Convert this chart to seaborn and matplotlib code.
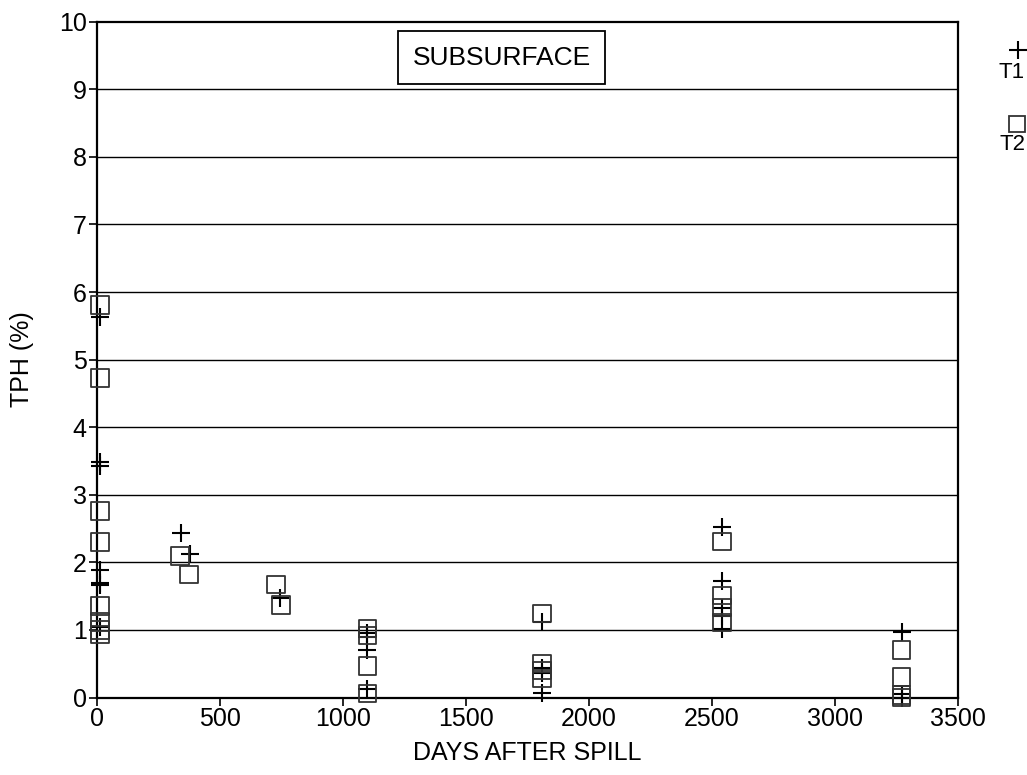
import matplotlib
matplotlib.use("Agg")
import matplotlib.pyplot as plt
import seaborn as sns
import pandas as pd
from matplotlib.lines import Line2D

sns.set_style("ticks")
plt.rcParams['font.family'] = ['Liberation Sans', 'DejaVu Sans']
plt.rcParams['text.color'] = 'black'
plt.rcParams['axes.labelcolor'] = 'black'
plt.rcParams['xtick.color'] = 'black'
plt.rcParams['ytick.color'] = 'black'

# T1 series (+)
t1_days = [15, 15, 15, 15, 15, 15, 15,
           345, 380,
           745,
           1100, 1100, 1100, 1100,
           1810, 1810, 1810, 1810,
           2540, 2540, 2540, 2540, 2540,
           3270, 3270, 3270]
t1_tph = [5.63, 3.48, 3.43, 1.88, 1.70, 1.67, 1.05,
          2.43, 2.12,
          1.47,
          0.96, 0.89, 0.71, 0.13,
          1.11, 0.43, 0.36, 0.07,
          2.52, 1.72, 1.32, 1.21, 1.02,
          0.97, 0.05, 0.0]

# T2 series (squares)
t2_days = [15, 15, 15, 15, 15, 15, 15, 15,
           340, 375,
           730, 750,
           1100, 1100, 1100, 1100,
           1810, 1810, 1810, 1810,
           2540, 2540, 2540, 2540,
           3270, 3270, 3270, 3270]
t2_tph = [5.81, 4.73, 2.76, 2.30, 1.35, 1.12, 1.00, 0.93,
          2.09, 1.82,
          1.67, 1.37,
          1.02, 0.92, 0.47, 0.06,
          1.24, 0.50, 0.40, 0.28,
          2.31, 1.51, 1.33, 1.11,
          0.70, 0.30, 0.04, 0.0]

x_ticks = [0, 500, 1000, 1500, 2000, 2500, 3000, 3500]
y_ticks = [0, 1, 2, 3, 4, 5, 6, 7, 8, 9, 10]

df1 = pd.DataFrame({"days": t1_days, "tph": t1_tph})
df2 = pd.DataFrame({"days": t2_days, "tph": t2_tph})

fig = plt.figure(figsize=(10.27, 7.75), dpi=100)
ax = fig.add_axes([0.094, 0.10, 0.839, 0.872])

for yv in y_ticks[1:-1]:
    ax.axhline(yv, color='black', lw=1.0, zorder=1)

sns.scatterplot(data=df1, x="days", y="tph", marker='+', s=180, color='black',
                linewidth=1.5, ax=ax, zorder=3, clip_on=False)
sns.scatterplot(data=df2, x="days", y="tph", marker='s', s=160, facecolor='none',
                edgecolor='#333333', linewidth=1.3, ax=ax, zorder=3, clip_on=False)

ax.set_xlim(0, 3500)
ax.set_ylim(0, 10)
ax.set_xticks(x_ticks)
ax.set_yticks(y_ticks)
ax.tick_params(axis='both', labelsize=18, direction='out', length=6, width=1.2,
               color='black', pad=1)
for sp in ax.spines.values():
    sp.set_linewidth(1.6)
    sp.set_color('black')
ax.set_xlabel("DAYS AFTER SPILL", fontsize=18, labelpad=7)
ax.set_ylabel("TPH (%)", fontsize=18, labelpad=18)

ax.text(0.47, 0.947, "SUBSURFACE", transform=ax.transAxes, ha='center', va='center',
        fontsize=19, bbox=dict(boxstyle='square,pad=0.55', fc='white', ec='black', lw=1.3))

# legend outside on the right: marker above label
fig.add_artist(Line2D([1018 / 1027], [1 - 50 / 775], marker='+', markersize=13,
                      markeredgewidth=1.5, color='black', transform=fig.transFigure))
fig.text(1012 / 1027, 1 - 72 / 775, "T1", ha='center', va='center', fontsize=16)
fig.add_artist(Line2D([1017 / 1027], [1 - 124 / 775], marker='s', markersize=12,
                      markerfacecolor='none', markeredgecolor='#333333', markeredgewidth=1.3,
                      transform=fig.transFigure))
fig.text(1012 / 1027, 1 - 145 / 775, "T2", ha='center', va='center', fontsize=16)

fig.savefig("out.png", dpi=100)
